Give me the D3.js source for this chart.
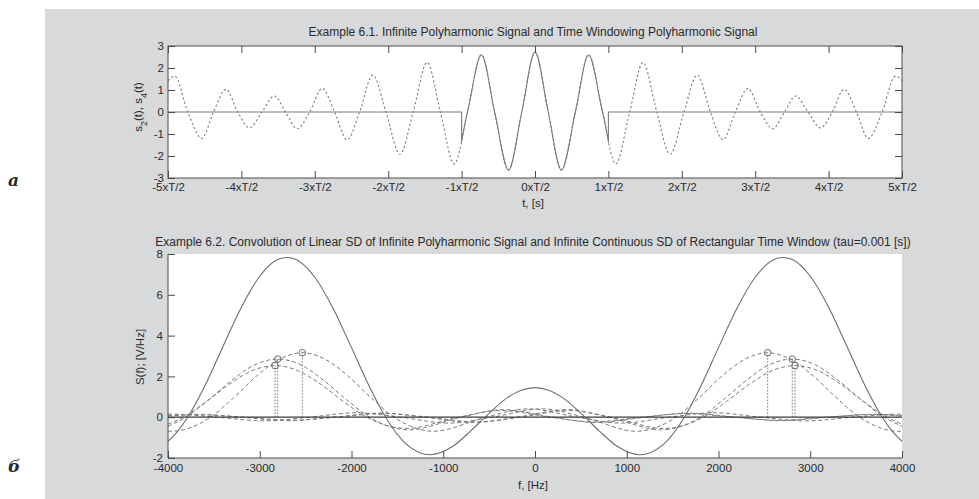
<!DOCTYPE html>
<html>
<head>
<meta charset="utf-8">
<script src="https://cdn.jsdelivr.net/npm/d3@7"></script>
<style>
  body { margin: 0; background: #fff; }
  svg text { font-family: "Liberation Sans", Arial, sans-serif; fill: #2a2a2a; }
</style>
</head>
<body>
<svg id="fig" width="979" height="499"></svg>
<script>
// ---------- Example 6.1: time signal (t in units of T/2) ----------
const timeTicks = [-5, -4, -3, -2, -1, 0, 1, 2, 3, 4, 5];
const timeTickLabels = ["-5xT/2", "-4xT/2", "-3xT/2", "-2xT/2", "-1xT/2", "0xT/2",
                        "1xT/2", "2xT/2", "3xT/2", "4xT/2", "5xT/2"];
const ampTicks = [-3, -2, -1, 0, 1, 2, 3];

// infinite polyharmonic signal s2(t): extrema and zero crossings
const signalT = [-5.00, -4.91, -4.73, -4.54, -4.38, -4.21, -4.05, -3.89, -3.72, -3.55, -3.40,
                 -3.24, -3.07, -2.90, -2.73, -2.56, -2.39, -2.21, -2.03, -1.84, -1.66, -1.47,
                 -1.29, -1.10, -0.92, -0.73, -0.55, -0.36, -0.18, 0.00,
                 0.18, 0.36, 0.55, 0.73, 0.92, 1.10, 1.29, 1.47, 1.66, 1.84, 2.03, 2.21,
                 2.39, 2.56, 2.73, 2.90, 3.07, 3.24, 3.40, 3.55, 3.72, 3.89, 4.05, 4.21,
                 4.38, 4.54, 4.73, 4.91, 5.00];
const signalS = [1.42, 1.63, 0, -1.20, 0, 1.03, 0, -0.72, 0, 0.73, 0,
                 -0.76, 0, 1.07, 0, -1.26, 0, 1.68, 0, -1.92, 0, 2.25,
                 0, -2.36, 0, 2.60, 0, -2.64, 0, 2.72,
                 0, -2.64, 0, 2.60, 0, -2.36, 0, 2.25, 0, -1.92, 0, 1.68,
                 0, -1.26, 0, 1.07, 0, -0.76, 0, 0.73, 0, -0.72, 0, 1.03,
                 0, -1.20, 0, 1.63, 1.42];
// rectangular window edges and the signal value there, s4(t)
const windowEdges = [-1, 1];
const windowEdgeValues = [-1.38, -1.38];

// ---------- Example 6.2: spectral densities ----------
const freqTicks = [-4000, -3000, -2000, -1000, 0, 1000, 2000, 3000, 4000];
const sdTicks = [-2, 0, 2, 4, 6, 8];

// convolution result S(f)
const convF = [-4000, -3900, -3785, -3600, -3400, -3200, -3000, -2800, -2700, -2600, -2400,
               -2200, -2000, -1800, -1628, -1400, -1140, -900, -700, -545, -300, -150, 0,
               150, 300, 545, 700, 900, 1140, 1400, 1628, 1800, 2000, 2200, 2400, 2600,
               2700, 2800, 3000, 3200, 3400, 3600, 3785, 3900, 4000];
const convS = [-1.18, -0.72, 0, 1.52, 3.47, 5.39, 6.91, 7.74, 7.83, 7.72, 6.86,
               5.33, 3.41, 1.46, 0, -1.33, -1.84, -1.44, -0.67, 0, 0.96, 1.32, 1.45,
               1.32, 0.96, 0, -0.67, -1.44, -1.84, -1.33, 0, 1.46, 3.41, 5.33, 6.86, 7.72,
               7.83, 7.74, 6.91, 5.39, 3.47, 1.52, 0, -0.72, -1.18];

// individual harmonic spectral densities
const harmA_F = [-4000, -3966, -3536, -3286, -3036, -2786, -2536, -2286, -2036, -1786, -1536,
                 -1106, -536, -77, 464, 935, 1464, 1941, 2464, 2946, 3464, 3948, 4000];
const harmA_S = [-0.68, -0.69, 0, 0.95, 2.01, 2.84, 3.16, 2.84, 2.01, 0.95, 0,
                 -0.69, 0, 0.41, 0, -0.29, 0, 0.22, 0, -0.18, 0, 0.15, 0.15];
const harmB_F = [-4000, -3804, -3554, -3304, -3054, -2804, -2554, -2304, -2054, -1804,
                 -1374, -804, -345, 196, 667, 1196, 1673, 2196, 2678, 3196, 3680, 4000];
const harmB_S = [-0.44, 0, 0.86, 1.81, 2.57, 2.85, 2.57, 1.81, 0.86, 0,
                 -0.62, 0, 0.37, 0, -0.26, 0, 0.20, 0, -0.17, 0, 0.14, 0.08];
const harmC_F = [-4000, -3834, -3584, -3334, -3084, -2834, -2584, -2334, -2084, -1834,
                 -1404, -834, -375, 166, 637, 1166, 1643, 2166, 2648, 3166, 3650, 4000];
const harmC_S = [-0.34, 0, 0.76, 1.61, 2.28, 2.53, 2.28, 1.61, 0.76, 0,
                 -0.55, 0, 0.33, 0, -0.23, 0, 0.18, 0, -0.15, 0, 0.12, 0.06];
const harmD_F = [-4000, -3948, -3464, -2946, -2464, -1941, -1464, -935, -464, 77, 536,
                 1106, 1536, 1786, 2036, 2286, 2536, 2786, 3036, 3286, 3536, 3966, 4000];
const harmD_S = [0.15, 0.15, 0, -0.18, 0, 0.22, 0, -0.29, 0, 0.41, 0,
                 -0.69, 0, 0.95, 2.01, 2.84, 3.16, 2.84, 2.01, 0.95, 0, -0.69, -0.68];
const harmE_F = [-4000, -3680, -3196, -2678, -2196, -1673, -1196, -667, -196, 345, 804,
                 1374, 1804, 2054, 2304, 2554, 2804, 3054, 3304, 3554, 3804, 4000];
const harmE_S = [0.08, 0.14, 0, -0.17, 0, 0.20, 0, -0.26, 0, 0.37, 0,
                 -0.62, 0, 0.86, 1.81, 2.57, 2.85, 2.57, 1.81, 0.86, 0, -0.44];
const harmF_F = [-4000, -3650, -3166, -2648, -2166, -1643, -1166, -637, -166, 375, 834,
                 1404, 1834, 2084, 2334, 2584, 2834, 3084, 3334, 3584, 3834, 4000];
const harmF_S = [0.06, 0.12, 0, -0.15, 0, 0.18, 0, -0.23, 0, 0.33, 0,
                 -0.55, 0, 0.76, 1.61, 2.28, 2.53, 2.28, 1.61, 0.76, 0, -0.34];

// line spectrum of the infinite signal (stems with circles)
const lineF = [-2834, -2804, -2536, 2536, 2804, 2834];
const lineS = [2.53, 2.85, 3.16, 3.16, 2.85, 2.53];

// ---------- drawing ----------
const W = 979, H = 499;
const svg = d3.select("#fig");
const axisColor = "#4a4a4a";
const lineColor = "#7c7c7c";
const plain = d => String(d);   // hyphen-minus tick labels

svg.append("rect").attr("x", 45).attr("y", 9).attr("width", W - 45).attr("height", H - 9)
   .attr("fill", "#d8d9db");

// panel letters
svg.append("text").attr("x", 8).attr("y", 186).text("а")
   .style("font-family", "'DejaVu Serif', 'Liberation Serif', serif")
   .style("font-style", "italic").style("font-weight", "bold").style("font-size", "17px");
svg.append("text").attr("x", 8).attr("y", 472).text("б")
   .style("font-family", "'DejaVu Serif', 'Liberation Serif', serif")
   .style("font-style", "italic").style("font-weight", "bold").style("font-size", "17px");

function pts(xs, ys) { return xs.map((x, i) => [x, ys[i]]); }

// ----- top axes -----
const b1 = { l: 168, r: 902, t: 46, b: 178 };
const x1 = d3.scaleLinear().domain([-5, 5]).range([b1.l, b1.r]);
const y1 = d3.scaleLinear().domain([-3, 3]).range([b1.b, b1.t]);

svg.append("rect").attr("x", b1.l).attr("y", b1.t).attr("width", b1.r - b1.l)
   .attr("height", b1.b - b1.t).attr("fill", "#fff");

const g1 = svg.append("g");
const clip1 = svg.append("clipPath").attr("id", "clip1");
clip1.append("rect").attr("x", b1.l).attr("y", b1.t - 5).attr("width", b1.r - b1.l)
     .attr("height", b1.b - b1.t + 10);
const clipWin = svg.append("clipPath").attr("id", "clipWin");
clipWin.append("rect").attr("x", x1(windowEdges[0])).attr("y", b1.t - 5)
       .attr("width", x1(windowEdges[1]) - x1(windowEdges[0])).attr("height", b1.b - b1.t + 10);

const line1 = d3.line().x(d => x1(d[0])).y(d => y1(d[1])).curve(d3.curveMonotoneX);
const sig = pts(signalT, signalS);

// infinite signal, dotted
g1.append("path").attr("d", line1(sig)).attr("fill", "none")
  .attr("stroke", lineColor).attr("stroke-width", 1.1).attr("stroke-dasharray", "2.2,2.3")
  .attr("clip-path", "url(#clip1)");
// windowed signal, solid
const solid = d3.line().x(d => x1(d[0])).y(d => y1(d[1]));
g1.append("path")
  .attr("d", solid([[-5, 0], [windowEdges[0], 0], [windowEdges[0], windowEdgeValues[0]]]))
  .attr("fill", "none").attr("stroke", lineColor).attr("stroke-width", 1.1);
g1.append("path")
  .attr("d", solid([[windowEdges[1], windowEdgeValues[1]], [windowEdges[1], 0], [5, 0]]))
  .attr("fill", "none").attr("stroke", lineColor).attr("stroke-width", 1.1);
g1.append("path").attr("d", line1(sig)).attr("fill", "none")
  .attr("stroke", lineColor).attr("stroke-width", 1.1).attr("clip-path", "url(#clipWin)");

// axes of the top plot
const tick = 7;
function styleAxis(g) {
  g.attr("color", axisColor);
  g.select(".domain").remove();
  g.selectAll("text").style("font-size", "11.5px").attr("fill", "#2a2a2a");
}
svg.append("g").attr("transform", `translate(0,${b1.b})`)
   .call(d3.axisBottom(x1).tickValues(timeTicks).tickSizeInner(-tick).tickSizeOuter(0)
        .tickPadding(5).tickFormat((d, i) => timeTickLabels[i]))
   .call(styleAxis);
svg.append("g").attr("transform", `translate(0,${b1.t})`)
   .call(d3.axisTop(x1).tickValues(timeTicks).tickSizeInner(-tick).tickSizeOuter(0)
        .tickFormat(""))
   .call(styleAxis);
svg.append("g").attr("transform", `translate(${b1.l},0)`)
   .call(d3.axisLeft(y1).tickValues(ampTicks).tickSizeInner(-tick).tickSizeOuter(0)
        .tickPadding(4).tickFormat(plain))
   .call(styleAxis);
svg.append("g").attr("transform", `translate(${b1.r},0)`)
   .call(d3.axisRight(y1).tickValues(ampTicks).tickSizeInner(-tick).tickSizeOuter(0)
        .tickFormat(""))
   .call(styleAxis);
svg.append("rect").attr("x", b1.l).attr("y", b1.t).attr("width", b1.r - b1.l)
   .attr("height", b1.b - b1.t).attr("fill", "none").attr("stroke", axisColor);

svg.append("text").attr("x", 533).attr("y", 36).attr("text-anchor", "middle")
   .style("font-size", "12px")
   .text("Example 6.1. Infinite Polyharmonic Signal and Time Windowing Polyharmonic Signal");
svg.append("text").attr("x", 533).attr("y", 207).attr("text-anchor", "middle")
   .style("font-size", "11.5px").text("t, [s]");
const yl1 = svg.append("text").attr("transform", "translate(142,107) rotate(-90)")
   .attr("text-anchor", "middle").style("font-size", "11.5px");
yl1.append("tspan").text("s");
yl1.append("tspan").text("2").attr("baseline-shift", "sub").style("font-size", "9px");
yl1.append("tspan").text("(t), s");
yl1.append("tspan").text("4").attr("baseline-shift", "sub").style("font-size", "9px");
yl1.append("tspan").text("(t)");

// ----- bottom axes -----
const b2 = { l: 168, r: 902, t: 254, b: 458 };
const x2 = d3.scaleLinear().domain([-4000, 4000]).range([b2.l, b2.r]);
const y2 = d3.scaleLinear().domain([-2, 8]).range([b2.b, b2.t]);

svg.append("rect").attr("x", b2.l).attr("y", b2.t).attr("width", b2.r - b2.l)
   .attr("height", b2.b - b2.t).attr("fill", "#fff");

const g2 = svg.append("g");
const line2 = d3.line().x(d => x2(d[0])).y(d => y2(d[1])).curve(d3.curveMonotoneX);

const harmonics = [[harmA_F, harmA_S], [harmB_F, harmB_S], [harmC_F, harmC_S],
                   [harmD_F, harmD_S], [harmE_F, harmE_S], [harmF_F, harmF_S]];
harmonics.forEach(([f, s]) => {
  g2.append("path").attr("d", line2(pts(f, s))).attr("fill", "none")
    .attr("stroke", lineColor).attr("stroke-width", 1).attr("stroke-dasharray", "4,2.6");
});

// stems
lineF.forEach((f, i) => {
  g2.append("line").attr("x1", x2(f)).attr("x2", x2(f)).attr("y1", y2(0)).attr("y2", y2(lineS[i]))
    .attr("stroke", lineColor).attr("stroke-width", 1).attr("stroke-dasharray", "1.6,1.6");
});
// stem baseline
g2.append("line").attr("x1", x2(-4000)).attr("x2", x2(4000)).attr("y1", y2(0)).attr("y2", y2(0))
  .attr("stroke", "#3a3a3a").attr("stroke-width", 1.2);
lineF.forEach((f, i) => {
  g2.append("circle").attr("cx", x2(f)).attr("cy", y2(lineS[i])).attr("r", 3.3)
    .attr("fill", "none").attr("stroke", "#6a6a6a").attr("stroke-width", 1);
});

// convolution result, solid
g2.append("path").attr("d", line2(pts(convF, convS))).attr("fill", "none")
  .attr("stroke", "#6e6e6e").attr("stroke-width", 1.1);

svg.append("g").attr("transform", `translate(0,${b2.b})`)
   .call(d3.axisBottom(x2).tickValues(freqTicks).tickSizeInner(-tick).tickSizeOuter(0)
        .tickPadding(6).tickFormat(plain))
   .call(styleAxis);
svg.append("g").attr("transform", `translate(${b2.l},0)`)
   .call(d3.axisLeft(y2).tickValues(sdTicks).tickSizeInner(-tick).tickSizeOuter(0)
        .tickPadding(5).tickFormat(plain))
   .call(styleAxis);
svg.append("line").attr("x1", b2.l).attr("x2", b2.r).attr("y1", b2.b).attr("y2", b2.b)
   .attr("stroke", axisColor);
svg.append("line").attr("x1", b2.l).attr("x2", b2.l).attr("y1", b2.t).attr("y2", b2.b)
   .attr("stroke", axisColor);

svg.append("text").attr("x", 533).attr("y", 246).attr("text-anchor", "middle")
   .style("font-size", "12px")
   .text("Example 6.2. Convolution of Linear SD of Infinite Polyharmonic Signal and Infinite Continuous SD of Rectangular Time Window (tau=0.001 [s])");
svg.append("text").attr("x", 533).attr("y", 489).attr("text-anchor", "middle")
   .style("font-size", "11.5px").text("f, [Hz]");
svg.append("text").attr("transform", "translate(144,357) rotate(-90)")
   .attr("text-anchor", "middle").style("font-size", "11.5px").text("S(f); [V/Hz]");
</script>
</body>
</html>
